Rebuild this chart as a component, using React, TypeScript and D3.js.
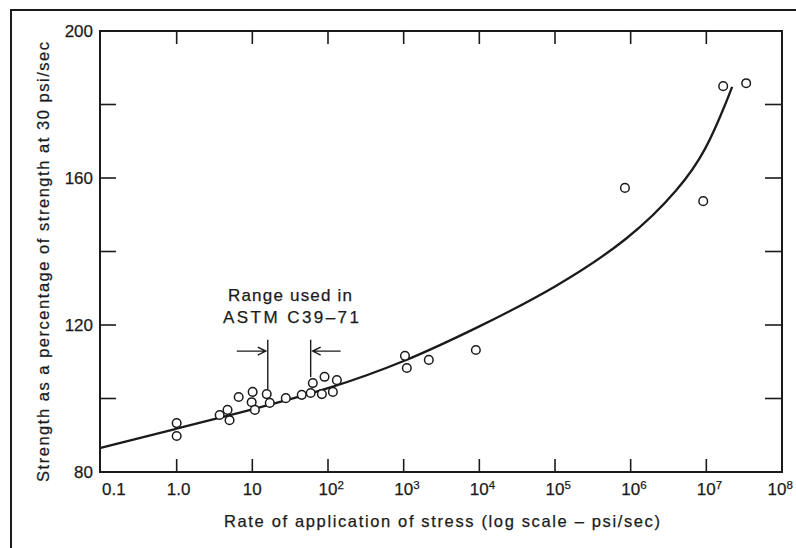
import React, { useEffect, useRef } from "react";
import * as d3 from "d3";

// measured points: rate of stress (psi/sec) vs strength (% of strength at 30 psi/sec)
const rates = [1.0, 1.0, 3.7, 4.7, 5.0, 6.6, 10.1, 9.8, 10.8, 15.5, 17, 27.7, 45, 59, 63, 83, 90, 116, 131,
  1040, 1100, 2150, 9000, 8.4e5, 9.1e6, 1.67e7, 3.36e7];
const strengths = [93.3, 89.8, 95.5, 96.9, 94.1, 100.4, 101.8, 99.0, 96.9, 101.2, 98.8, 100.1, 101.0, 101.5, 104.2, 101.2, 105.9, 101.8, 105.0,
  111.6, 108.3, 110.5, 113.2, 157.3, 153.7, 185.0, 185.8];

// fitted curve
const curveRates = [0.096, 1, 10, 100, 1000, 1e4, 1e5, 1e6, 4.5e6, 1e7, 1.88e7, 2.19e7];
const curveStrengths = [86.5, 91.8, 97.0, 102.5, 109.8, 119.5, 130.0, 143.5, 157.2, 167.6, 181.2, 184.8];

const xTickExps = [-1, 0, 1, 2, 3, 4, 5, 6, 7, 8];
const yTicks = [80, 100, 120, 140, 160, 180, 200];
const yLabels = [80, 120, 160, 200];

// ASTM C39-71 range markers
const astmLow = 16;
const astmHigh = 59;

const INK = "#1b1b1b";
const FONT = "'Liberation Sans', Arial, Helvetica, sans-serif";

export default function App() {
  const ref = useRef<SVGSVGElement>(null);

  useEffect(() => {
    const svg = d3.select(ref.current);
    svg.selectAll("*").remove();

    const x = d3.scaleLog().domain([0.1, 1e8]).range([101, 782]);
    const y = d3.scaleLinear().domain([80, 200]).range([472, 31]);
    const left = 100, right = 782, top = y(200), bottom = y(80);

    // outer frame (page border)
    svg.append("path")
      .attr("d", `M11,560 L11,10 L800,10`)
      .attr("fill", "none").attr("stroke", INK).attr("stroke-width", 2);

    // plot frame
    svg.append("rect")
      .attr("x", left).attr("y", top)
      .attr("width", right - left).attr("height", bottom - top)
      .attr("fill", "none").attr("stroke", INK).attr("stroke-width", 2);

    const g = svg.append("g");

    // x ticks, bottom and top, pointing in
    const inner = xTickExps.filter(e => e > -1 && e < 8);
    inner.forEach(e => {
      const px = x(Math.pow(10, e));
      g.append("line").attr("x1", px).attr("x2", px).attr("y1", bottom).attr("y2", bottom - 13)
        .attr("stroke", INK).attr("stroke-width", 1.6);
      g.append("line").attr("x1", px).attr("x2", px).attr("y1", top).attr("y2", top + 13)
        .attr("stroke", INK).attr("stroke-width", 1.6);
    });

    // y ticks, left and right
    yTicks.filter(t => t > 80 && t < 200).forEach(t => {
      g.append("line").attr("x1", left).attr("x2", left + 16).attr("y1", y(t)).attr("y2", y(t))
        .attr("stroke", INK).attr("stroke-width", 1.6);
      g.append("line").attr("x1", right).attr("x2", right - 17).attr("y1", y(t)).attr("y2", y(t))
        .attr("stroke", INK).attr("stroke-width", 1.6);
    });

    const txt = (sel: any, size: number) =>
      sel.attr("font-size", size).attr("font-family", FONT).attr("fill", INK)
        .attr("stroke", INK).attr("stroke-width", 0.25);

    // y tick labels
    yLabels.forEach(t => {
      txt(g.append("text").attr("x", 93).attr("y", y(t)).attr("dy", "0.36em")
        .attr("text-anchor", "end"), 17).text(t);
    });

    // x tick labels
    const labelY = 495;
    xTickExps.forEach(e => {
      const px = x(Math.pow(10, e));
      if (e === -1) {
        txt(g.append("text").attr("x", px + 1).attr("y", labelY).attr("text-anchor", "start"), 17).text("0.1");
      } else if (e === 0) {
        txt(g.append("text").attr("x", px + 2).attr("y", labelY).attr("text-anchor", "middle"), 17).text("1.0");
      } else if (e === 1) {
        txt(g.append("text").attr("x", px).attr("y", labelY).attr("text-anchor", "middle"), 17).text("10");
      } else {
        const shift = e === 8 ? -5 : 0;
        txt(g.append("text").attr("x", px + shift).attr("y", labelY).attr("text-anchor", "middle"), 17).text("10");
        txt(g.append("text").attr("x", px + shift + 9.5).attr("y", labelY - 6).attr("text-anchor", "start"), 11.5)
          .text(String(e));
      }
    });

    // axis titles
    txt(g.append("text").attr("x", 224).attr("y", 527)
      .attr("textLength", 436).attr("lengthAdjust", "spacing"), 16.5)
      .text("Rate of application of stress (log scale \u2013 psi/sec)");

    txt(g.append("text").attr("transform", "translate(49,262) rotate(-90)")
      .attr("text-anchor", "middle")
      .attr("textLength", 440).attr("lengthAdjust", "spacing"), 16.5)
      .text("Strength as a percentage of strength at 30 psi/sec");

    // fitted curve
    const line = d3.line<number>()
      .x((_, i) => x(curveRates[i]))
      .y(d => y(d))
      .curve(d3.curveBasis);
    g.append("path").attr("d", line(curveStrengths))
      .attr("fill", "none").attr("stroke", INK).attr("stroke-width", 2.3);

    // points
    g.selectAll("circle.pt").data(rates).enter().append("circle")
      .attr("class", "pt")
      .attr("cx", d => x(d))
      .attr("cy", (_, i) => y(strengths[i]))
      .attr("r", 4.3)
      .attr("fill", "#fff").attr("stroke", INK).attr("stroke-width", 1.5);

    // ASTM annotation
    const xl = x(astmLow), xh = x(astmHigh);
    const arrowY = y(112.9);
    g.append("line").attr("x1", xl).attr("x2", xl).attr("y1", y(116)).attr("y2", y(102.5))
      .attr("stroke", INK).attr("stroke-width", 1.4);
    g.append("line").attr("x1", xh).attr("x2", xh).attr("y1", y(116)).attr("y2", y(105.8))
      .attr("stroke", INK).attr("stroke-width", 1.4);
    g.append("path")
      .attr("d", `M${xl - 31},${arrowY} L${xl - 2},${arrowY} M${xl - 10},${arrowY - 4} L${xl - 2},${arrowY} L${xl - 10},${arrowY + 4}`)
      .attr("fill", "none").attr("stroke", INK).attr("stroke-width", 1.4);
    g.append("path")
      .attr("d", `M${xh + 30},${arrowY} L${xh + 2},${arrowY} M${xh + 10},${arrowY - 4} L${xh + 2},${arrowY} L${xh + 10},${arrowY + 4}`)
      .attr("fill", "none").attr("stroke", INK).attr("stroke-width", 1.4);

    txt(g.append("text").attr("x", 290).attr("y", 301).attr("text-anchor", "middle")
      .attr("textLength", 124).attr("lengthAdjust", "spacing"), 17)
      .text("Range used in");
    txt(g.append("text").attr("x", 291).attr("y", 323).attr("text-anchor", "middle")
      .attr("textLength", 136).attr("lengthAdjust", "spacing"), 17)
      .text("ASTM C39\u201371");
  }, []);

  return (
    <svg ref={ref} width={796} height={548}
      style={{ position: "absolute", left: 0, top: 0, background: "#fff" }} />
  );
}
